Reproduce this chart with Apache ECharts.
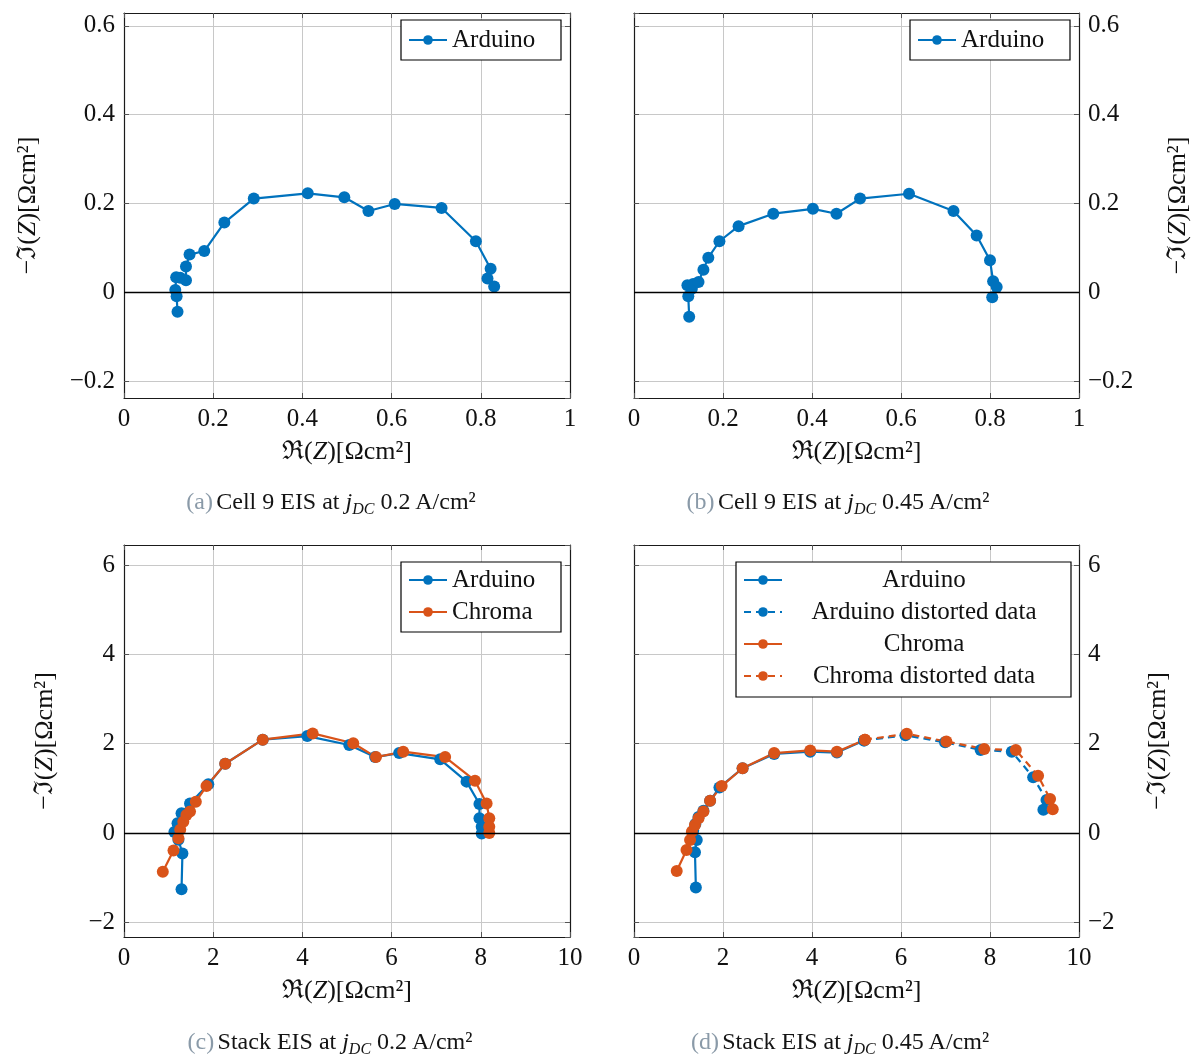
<!DOCTYPE html>
<html><head><meta charset="utf-8">
<script src="https://cdn.jsdelivr.net/npm/echarts@6/dist/echarts.min.js"></script>
<style>html,body{margin:0;padding:0;background:#fff}#c{width:1192px;height:1059px}</style>
</head><body><div id="c"></div>
<script>
// ---------- data (Re(Z), -Im(Z)) ----------
const cellA_arduino_re = [0.120,0.118,0.115,0.117,0.126,0.139,0.139,0.147,0.180,0.225,0.291,0.412,0.494,0.548,0.607,0.712,0.789,0.822,0.815,0.830];
const cellA_arduino_im = [-0.044,-0.009,0.005,0.034,0.033,0.027,0.058,0.085,0.093,0.157,0.211,0.223,0.214,0.183,0.199,0.190,0.115,0.053,0.031,0.013];

const cellB_arduino_re = [0.124,0.122,0.120,0.130,0.133,0.145,0.156,0.167,0.192,0.235,0.313,0.402,0.455,0.508,0.618,0.718,0.770,0.800,0.807,0.815,0.805];
const cellB_arduino_im = [-0.055,-0.009,0.016,0.008,0.019,0.023,0.051,0.078,0.115,0.149,0.177,0.188,0.177,0.211,0.222,0.183,0.128,0.072,0.025,0.012,-0.011];

const stackC_arduino_re = [1.29,1.31,1.22,1.13,1.20,1.29,1.48,1.89,2.27,3.11,4.11,5.05,5.63,6.17,7.09,7.68,7.97,7.97,8.02,8.02];
const stackC_arduino_im = [-1.26,-0.46,-0.15,0.02,0.22,0.44,0.66,1.09,1.55,2.09,2.17,1.97,1.70,1.79,1.65,1.15,0.65,0.33,0.14,-0.01];
const stackC_chroma_re = [0.87,1.11,1.22,1.26,1.33,1.40,1.48,1.61,1.85,2.27,3.11,4.23,5.14,5.65,6.26,7.20,7.87,8.13,8.19,8.19,8.19];
const stackC_chroma_im = [-0.87,-0.39,-0.12,0.07,0.25,0.40,0.48,0.70,1.05,1.55,2.09,2.23,2.01,1.70,1.82,1.70,1.17,0.66,0.33,0.14,0.00];

const stackD_arduino_re = [1.39,1.37,1.41,1.33,1.38,1.45,1.56,1.71,1.92,2.44,3.15,3.96,4.56,5.17];
const stackD_arduino_im = [-1.22,-0.43,-0.16,0.05,0.20,0.36,0.50,0.72,1.02,1.45,1.77,1.82,1.80,2.07];
const stackD_arduinoDist_re = [5.17,6.10,6.99,7.79,8.49,8.97,9.27,9.20];
const stackD_arduinoDist_im = [2.07,2.19,2.03,1.86,1.82,1.25,0.74,0.52];
const stackD_chroma_re = [0.96,1.18,1.26,1.30,1.37,1.45,1.56,1.71,1.97,2.44,3.15,3.96,4.56,5.19];
const stackD_chroma_im = [-0.85,-0.38,-0.16,0.03,0.18,0.33,0.48,0.72,1.05,1.45,1.79,1.85,1.82,2.09];
const stackD_chromaDist_re = [5.19,6.13,7.02,7.87,8.58,9.08,9.35,9.41];
const stackD_chromaDist_im = [2.09,2.22,2.05,1.88,1.86,1.28,0.76,0.53];

// tick labels
const cellXTicks = [0,0.2,0.4,0.6,0.8,1];
const cellYTicks = [-0.2,0,0.2,0.4,0.6];
const stackXTicks = [0,2,4,6,8,10];
const stackYTicks = [-2,0,2,4,6];

const captions = [
  {tag:'(a)', text:'Cell 9 EIS at ', val:' 0.2\u2009A/cm\u00B2'},
  {tag:'(b)', text:'Cell 9 EIS at ', val:' 0.45\u2009A/cm\u00B2'},
  {tag:'(c)', text:'Stack EIS at ', val:' 0.2\u2009A/cm\u00B2'},
  {tag:'(d)', text:'Stack EIS at ', val:' 0.45\u2009A/cm\u00B2'}
];

// ---------- styling ----------
const FONT = '"Liberation Serif","DejaVu Serif",serif';
const FS = 25;
const NFS = 26;
const BLUE = '#0072BD', ORANGE = '#D95319';
const TXT = '#111';
const zip = (a,b) => a.map((v,i)=>[v,b[i]]);
const fmtNum = v => { const r = Math.round(v*1000)/1000; return r < 0 ? '\u2212' + (-r) : String(r); };
const tickFmt = ticks => v => ticks.some(t => Math.abs(t - v) < 1e-6) ? fmtNum(v) : '';

const grids = [
  {left:124, top:13, width:446, height:385},
  {left:634, top:13, width:445, height:385},
  {left:124, top:545, width:446, height:392},
  {left:634, top:545, width:445, height:392}
];
const panels = [
  {x:[0,1], xi:0.2, xt:cellXTicks, y:[-0.238,0.629], yt:cellYTicks, side:'left', ygap:83},
  {x:[0,1], xi:0.2, xt:cellXTicks, y:[-0.238,0.629], yt:cellYTicks, side:'right', ygap:86},
  {x:[0,10], xi:2, xt:stackXTicks, y:[-2.33,6.45], yt:stackYTicks, side:'left', ygap:66},
  {x:[0,10], xi:2, xt:stackXTicks, y:[-2.33,6.45], yt:stackYTicks, side:'right', ygap:66}
];

const nameRich = {
  r:{fontFamily:FONT, fontSize:NFS, color:TXT},
  i:{fontFamily:FONT, fontSize:NFS, color:TXT, fontStyle:'italic'}
};
const boxLine = () => ({show:true, onZero:false, lineStyle:{color:'#1a1a1a', width:1.2}});
const tick = () => ({show:true, inside:true, length:5, lineStyle:{color:'#555', width:1}});

const xAxis = [], yAxis = [];
panels.forEach((p,i)=>{
  xAxis.push({
    type:'value', gridIndex:i, min:p.x[0], max:p.x[1], interval:p.xi, position:'bottom',
    axisLine:boxLine(), axisTick:tick(),
    axisLabel:{fontFamily:FONT, fontSize:FS, color:TXT, margin:9, formatter:tickFmt(p.xt)},
    splitLine:{show:true, showMinLine:false, showMaxLine:false, lineStyle:{color:'#c8c8c8', width:1}},
    name:'{r|\u211C(}{i|Z}{r|)[\u03A9cm\u00B2]}', nameLocation:'middle', nameGap:41,
    nameTextStyle:{rich:nameRich}
  });
  xAxis.push({
    type:'value', gridIndex:i, min:p.x[0], max:p.x[1], interval:p.xi, position:'top',
    axisLine:boxLine(), axisTick:tick(), axisLabel:{show:false}, splitLine:{show:false}
  });
  const other = p.side === 'left' ? 'right' : 'left';
  yAxis.push({
    type:'value', gridIndex:i, min:p.y[0], max:p.y[1], splitNumber:5, position:p.side,
    axisLine:boxLine(), axisTick:tick(),
    axisLabel:{fontFamily:FONT, fontSize:FS, color:TXT, margin:9, formatter:tickFmt(p.yt), showMinLabel:false, showMaxLabel:false},
    splitLine:{show:true, showMinLine:false, showMaxLine:false, lineStyle:{color:'#c8c8c8', width:1}},
    name:'{r|\u2212\u2111(}{i|Z}{r|)[\u03A9cm\u00B2]}', nameLocation:'middle', nameGap:p.ygap, nameRotate:90,
    nameTextStyle:{rich:nameRich}
  });
  yAxis.push({
    type:'value', gridIndex:i, min:p.y[0], max:p.y[1], splitNumber:5, position:other,
    axisLine:boxLine(), axisTick:tick(), axisLabel:{show:false}, splitLine:{show:false}
  });
});

function mkSeries(name, gi, re, im, color, dashed){
  return {
    type:'line', name, xAxisIndex:2*gi, yAxisIndex:2*gi, data:zip(re,im),
    symbol:'circle', symbolSize:12, showSymbol:true, showAllSymbol:true,
    lineStyle:{color, width:2.2, type: dashed ? [7,5] : 'solid'},
    itemStyle:{color}, z:3, animation:false, emphasis:{disabled:true}
  };
}
function zeroLine(gi){
  return {
    type:'line', name:'zero'+gi, xAxisIndex:2*gi, yAxisIndex:2*gi, data:[], z:1, silent:true,
    markLine:{silent:true, symbol:['none','none'], label:{show:false}, animation:false,
      lineStyle:{color:'#000', width:1.3, type:'solid'}, emphasis:{disabled:true}, data:[{yAxis:0}]}
  };
}

const series = [
  zeroLine(0), zeroLine(1), zeroLine(2), zeroLine(3),
  mkSeries('Arduino', 0, cellA_arduino_re, cellA_arduino_im, BLUE, false),
  mkSeries('Arduino', 1, cellB_arduino_re, cellB_arduino_im, BLUE, false),
  mkSeries('Arduino', 2, stackC_arduino_re, stackC_arduino_im, BLUE, false),
  mkSeries('Chroma', 2, stackC_chroma_re, stackC_chroma_im, ORANGE, false),
  mkSeries('Arduino', 3, stackD_arduino_re, stackD_arduino_im, BLUE, false),
  mkSeries('Arduino distorted data', 3, stackD_arduinoDist_re, stackD_arduinoDist_im, BLUE, true),
  mkSeries('Chroma', 3, stackD_chroma_re, stackD_chroma_im, ORANGE, false),
  mkSeries('Chroma distorted data', 3, stackD_chromaDist_re, stackD_chromaDist_im, ORANGE, true)
];

function mkLegend(left, top, names, textW, align, pad){
  return {
    left, top, orient:'vertical', data:names, selectedMode:false,
    backgroundColor:'#fff', borderColor:'#000', borderWidth:1.2, borderRadius:0,
    padding:pad, itemWidth:38, itemHeight:12, itemGap:6,
    formatter: n => '{t|' + n + '}',
    textStyle:{fontFamily:FONT, fontSize:FS, color:TXT, lineHeight:26,
      rich:{t:{fontFamily:FONT, fontSize:FS, color:TXT, width:textW, align, lineHeight:26}}}
  };
}
const legend = [
  mkLegend(401, 20, ['Arduino'], 97, 'left', [7,12,7,7]),
  mkLegend(910, 20, ['Arduino'], 97, 'left', [7,12,7,7]),
  mkLegend(401, 562, ['Arduino','Chroma'], 97, 'left', [5,12,7,7]),
  mkLegend(736, 562, ['Arduino','Arduino distorted data','Chroma','Chroma distorted data'], 274, 'center', [5,10,8,7])
];

const capPos = [[331,503],[838,503],[330,1043],[840,1043]];
const CFS = 24;
const graphic = captions.map((c,i)=>({
  type:'text', x:capPos[i][0], y:capPos[i][1], silent:true,
  style:{
    text:'{g|' + c.tag + '} {t|' + c.text + '}{i|j}{s|DC}{t|' + c.val + '}',
    align:'center', verticalAlign:'middle',
    rich:{
      g:{fontFamily:FONT, fontSize:CFS, fill:'#8a9aa8', color:'#8a9aa8', lineHeight:30},
      t:{fontFamily:FONT, fontSize:CFS, fill:'#141414', color:'#141414', lineHeight:30},
      i:{fontFamily:FONT, fontSize:CFS, fontStyle:'italic', fill:'#141414', color:'#141414', lineHeight:30},
      s:{fontFamily:FONT, fontSize:16, fontStyle:'italic', fill:'#141414', color:'#141414', lineHeight:18, verticalAlign:'bottom'}
    }
  }
}));

const chart = echarts.init(document.getElementById('c'), null, {renderer:'canvas'});
chart.setOption({
  backgroundColor:'#fff',
  animation:false,
  grid: grids.map(g => Object.assign({show:false, outerBoundsMode:'none'}, g)),
  xAxis, yAxis, series, legend, graphic
});
</script></body></html>
